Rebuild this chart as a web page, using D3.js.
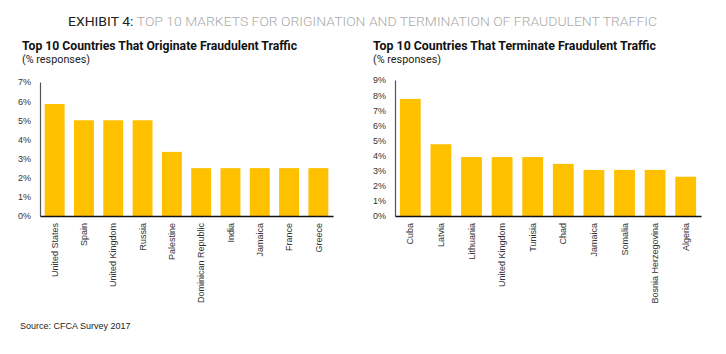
<!DOCTYPE html>
<html>
<head>
<meta charset="utf-8">
<script src="https://cdn.jsdelivr.net/npm/d3@7"></script>
<style>
  body { margin: 0; background: #fff; }
  svg { display: block; }
  .tick-label, .cat-label { font-family: "Liberation Sans", Arial, sans-serif; font-size: 9px; fill: #333; }
</style>
</head>
<body>
<div id="chart"></div>
<script>
// data
const originCountries = ["United States", "Spain", "United Kingdom", "Russia", "Palestine",
  "Dominican Republic", "India", "Jamaica", "France", "Greece"];
const originValues = [5.85, 5.0, 5.0, 5.0, 3.35, 2.5, 2.5, 2.5, 2.5, 2.5];
const originTicks = [0, 1, 2, 3, 4, 5, 6, 7];

const termCountries = ["Cuba", "Latvia", "Lithuania", "United Kingdom", "Tunisia",
  "Chad", "Jamaica", "Somalia", "Bosnia Herzegovina", "Algeria"];
const termValues = [7.75, 4.75, 3.9, 3.9, 3.9, 3.45, 3.05, 3.05, 3.05, 2.6];
const termTicks = [0, 1, 2, 3, 4, 5, 6, 7, 8, 9];

const W = 726, H = 354;
const barColor = "#FFC000";

const svg = d3.select("#chart").append("svg")
  .attr("width", W).attr("height", H);

// main title, two colours
const title = svg.append("text")
  .attr("x", 68).attr("y", 26)
  .attr("font-family", "Roboto, sans-serif")
  .attr("font-size", 13.5)
  .attr("textLength", 589)
  .attr("lengthAdjust", "spacingAndGlyphs");
title.append("tspan").attr("fill", "#222").attr("font-weight", 400).text("EXHIBIT 4: ");
title.append("tspan").attr("fill", "#aaa").attr("font-weight", 300)
  .text("TOP 10 MARKETS FOR ORIGINATION AND TERMINATION OF FRAUDULENT TRAFFIC");

// one bar panel
function drawPanel(opts) {
  const g = svg.append("g");

  g.append("text")
    .attr("x", opts.titleX).attr("y", 50)
    .attr("font-family", "Roboto, sans-serif")
    .attr("font-weight", 700).attr("font-size", 12.5)
    .attr("fill", "#111")
    .attr("textLength", opts.titleLen)
    .attr("lengthAdjust", "spacingAndGlyphs")
    .text(opts.title);

  g.append("text")
    .attr("x", opts.titleX).attr("y", 63)
    .attr("font-family", "Roboto, sans-serif")
    .attr("font-size", 11).attr("fill", "#222")
    .attr("textLength", 68)
    .attr("lengthAdjust", "spacingAndGlyphs")
    .text("(% responses)");

  const x = d3.scaleBand()
    .domain(opts.cats)
    .range([opts.x0, opts.x1])
    .paddingInner(0.32)
    .paddingOuter(0.16);

  const y = d3.scaleLinear()
    .domain([0, d3.max(opts.ticks)])
    .range([216, opts.yTop]);

  // bars
  g.selectAll(".bar")
    .data(opts.values)
    .enter().append("rect")
    .attr("class", "bar")
    .attr("x", (d, i) => x(opts.cats[i]))
    .attr("y", d => y(d))
    .attr("width", x.bandwidth())
    .attr("height", d => y(0) - y(d))
    .attr("fill", barColor);

  // y axis
  const yAxis = g.append("g")
    .attr("transform", `translate(${opts.x0},0)`)
    .call(d3.axisLeft(y).tickValues(opts.ticks).tickSize(0).tickPadding(9)
      .tickFormat(d => d + "%"));
  yAxis.select(".domain").attr("stroke", "#555").attr("stroke-width", 1.2);
  yAxis.selectAll("text").attr("class", "tick-label").attr("font-size", null).attr("font-family", null).attr("fill", null);

  // x axis
  const xAxis = g.append("g")
    .attr("transform", "translate(0,216)")
    .call(d3.axisBottom(x).tickSize(0).tickFormat(""));
  xAxis.select(".domain").attr("stroke", "#111").attr("stroke-width", 1.6);

  g.selectAll(".cat-label")
    .data(opts.cats)
    .enter().append("text")
    .attr("class", "cat-label")
    .attr("text-anchor", "end")
    .attr("dy", "0.35em")
    .attr("transform", d => `translate(${x(d) + x.bandwidth() / 2},223) rotate(-90)`)
    .text(d => d);
}

drawPanel({
  title: "Top 10 Countries That Originate Fraudulent Traffic",
  titleX: 22, titleLen: 275,
  cats: originCountries, values: originValues, ticks: originTicks,
  x0: 40, x1: 333, yTop: 82
});

drawPanel({
  title: "Top 10 Countries That Terminate Fraudulent Traffic",
  titleX: 373, titleLen: 283,
  cats: termCountries, values: termValues, ticks: termTicks,
  x0: 395, x1: 701, yTop: 80
});

svg.append("text")
  .attr("x", 20).attr("y", 329)
  .attr("font-family", "Liberation Sans, Arial, sans-serif")
  .attr("font-size", 9).attr("fill", "#222")
  .text("Source: CFCA Survey 2017");
</script>
</body>
</html>
